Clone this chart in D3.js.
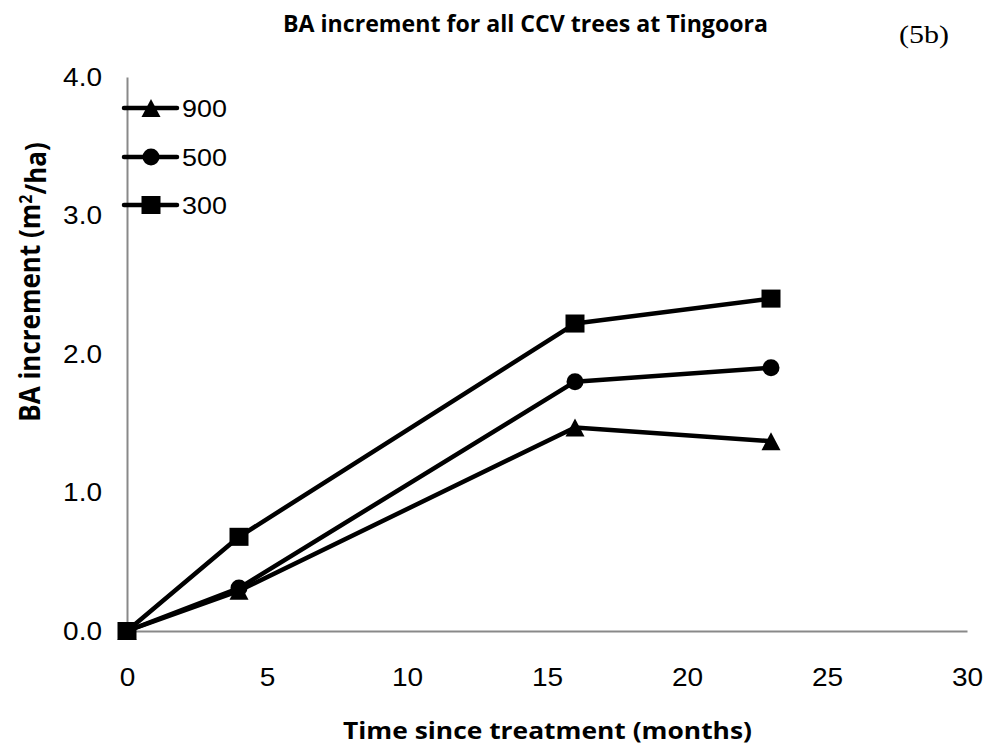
<!DOCTYPE html>
<html>
<head>
<meta charset="utf-8">
<script src="https://cdn.jsdelivr.net/npm/d3@7"></script>
<style>
  body { margin: 0; background: #fff; }
  svg { display: block; }
</style>
</head>
<body>
<div id="chart"></div>
<script>
// chart data
const months = [0, 4, 16, 23];
const s900 = [0, 0.29, 1.47, 1.37];
const s500 = [0, 0.31, 1.80, 1.90];
const s300 = [0, 0.68, 2.22, 2.40];
const seriesNames = ['900', '500', '300'];
const xTicks = [0, 5, 10, 15, 20, 25, 30];
const yTicks = [0, 1, 2, 3, 4];

const width = 989, height = 752;
const margin = { top: 77, right: 22, bottom: 121, left: 127 };
const sansFont = '"Liberation Sans", Arial, sans-serif';
const boldFont = '"Open Sans", sans-serif';

const svg = d3.select('#chart')
    .append('svg')
    .attr('width', width)
    .attr('height', height);

// the original picture is a bit wider than tall, so glyphs are stretched sideways
function stretch(sel, factor) {
    sel.each(function () {
        const w = this.getComputedTextLength();
        d3.select(this)
            .attr('textLength', w * factor)
            .attr('lengthAdjust', 'spacingAndGlyphs');
    });
}

const x = d3.scaleLinear().domain([0, 30]).range([margin.left, width - margin.right]);
const y = d3.scaleLinear().domain([0, 4]).range([height - margin.bottom, margin.top]);

// axes (no tick marks, grey line)
const xAxis = svg.append('g')
    .attr('transform', `translate(0, ${y(0)})`)
    .call(d3.axisBottom(x).tickValues(xTicks).tickSize(0).tickPadding(46).tickFormat(d3.format('d')));
const yAxis = svg.append('g')
    .attr('transform', `translate(${x(0)}, 0)`)
    .call(d3.axisLeft(y).tickValues(yTicks).tickSize(0).tickPadding(25).tickFormat(d3.format('.1f')));

[xAxis, yAxis].forEach(g => {
    g.select('.domain').attr('stroke', '#898989').attr('stroke-width', 2);
    g.selectAll('text')
        .style('font-family', sansFont)
        .style('font-size', '25px')
        .attr('fill', '#000')
        .call(stretch, 1.12);
});
xAxis.selectAll('text').attr('dy', '0.35em');

// marker shapes, a little wider than tall like the original
const triangle = {
    draw(ctx, size) {
        const w = size, h = size * 0.95;
        ctx.moveTo(0, -h / 2);
        ctx.lineTo(w / 2, h / 2);
        ctx.lineTo(-w / 2, h / 2);
        ctx.closePath();
    }
};
const square = {
    draw(ctx, size) {
        const w = size, h = size * 0.95;
        ctx.rect(-w / 2, -h / 2, w, h);
    }
};
const circle = {
    draw(ctx, size) {
        const r = size / 2;
        ctx.moveTo(r, 0);
        ctx.arc(0, 0, r, 0, 2 * Math.PI);
    }
};

const series = [
    { name: seriesNames[0], values: s900, symbol: triangle, size: 19 },
    { name: seriesNames[1], values: s500, symbol: circle, size: 17 },
    { name: seriesNames[2], values: s300, symbol: square, size: 19 }
];

const line = d3.line()
    .x((d, i) => x(months[i]))
    .y(d => y(d));

series.slice().reverse().forEach(s => {
    svg.append('path')
        .datum(s.values)
        .attr('d', line)
        .attr('fill', 'none')
        .attr('stroke', '#000')
        .attr('stroke-width', 4.5)
        .attr('stroke-linejoin', 'round');
});
series.slice().reverse().forEach(s => {
    svg.selectAll(null)
        .data(s.values)
        .enter()
        .append('path')
        .attr('d', d3.symbol().type(s.symbol).size(s.size))
        .attr('transform', (d, i) => `translate(${x(months[i])}, ${y(d)})`)
        .attr('fill', '#000');
});

// legend inside the plot, top left
const legendY = [108, 157, 205];
series.forEach((s, i) => {
    const g = svg.append('g').attr('transform', `translate(0, ${legendY[i]})`);
    g.append('line')
        .attr('x1', 124).attr('x2', 177)
        .attr('stroke', '#000').attr('stroke-width', 4.5).attr('stroke-linecap', 'round');
    g.append('path')
        .attr('d', d3.symbol().type(s.symbol).size(s.size))
        .attr('transform', 'translate(151, 0)')
        .attr('fill', '#000');
    g.append('text')
        .attr('x', 182)
        .attr('dy', '0.36em')
        .style('font-family', sansFont)
        .style('font-size', '24px')
        .text(s.name)
        .call(stretch, 1.12);
});

// title
svg.append('text')
    .attr('x', 283)
    .attr('y', 32)
    .style('font-family', boldFont)
    .style('font-weight', 'bold')
    .style('font-size', '23px')
    .attr('textLength', 485)
    .attr('lengthAdjust', 'spacingAndGlyphs')
    .text('BA increment for all CCV trees at Tingoora');

svg.append('text')
    .attr('x', 899)
    .attr('y', 43)
    .style('font-family', '"Liberation Serif", "Times New Roman", serif')
    .style('font-size', '26px')
    .attr('textLength', 50)
    .attr('lengthAdjust', 'spacingAndGlyphs')
    .text('(5b)');

// axis titles
svg.append('text')
    .attr('x', 343)
    .attr('y', 739)
    .style('font-family', boldFont)
    .style('font-weight', 'bold')
    .style('font-size', '24px')
    .attr('textLength', 409)
    .attr('lengthAdjust', 'spacingAndGlyphs')
    .text('Time since treatment (months)');

const yTitle = svg.append('text')
    .attr('transform', 'translate(30, 282) scale(1.12, 1) rotate(-90)')
    .attr('text-anchor', 'middle')
    .attr('dy', '0.36em')
    .style('font-family', boldFont)
    .style('font-weight', 'bold')
    .style('font-size', '26px');
yTitle.append('tspan').text('BA increment (m');
yTitle.append('tspan').attr('dy', '-0.45em').style('font-size', '16px').text('2');
yTitle.append('tspan').attr('dy', '0.45em').text('/ha)');
</script>
</body>
</html>
